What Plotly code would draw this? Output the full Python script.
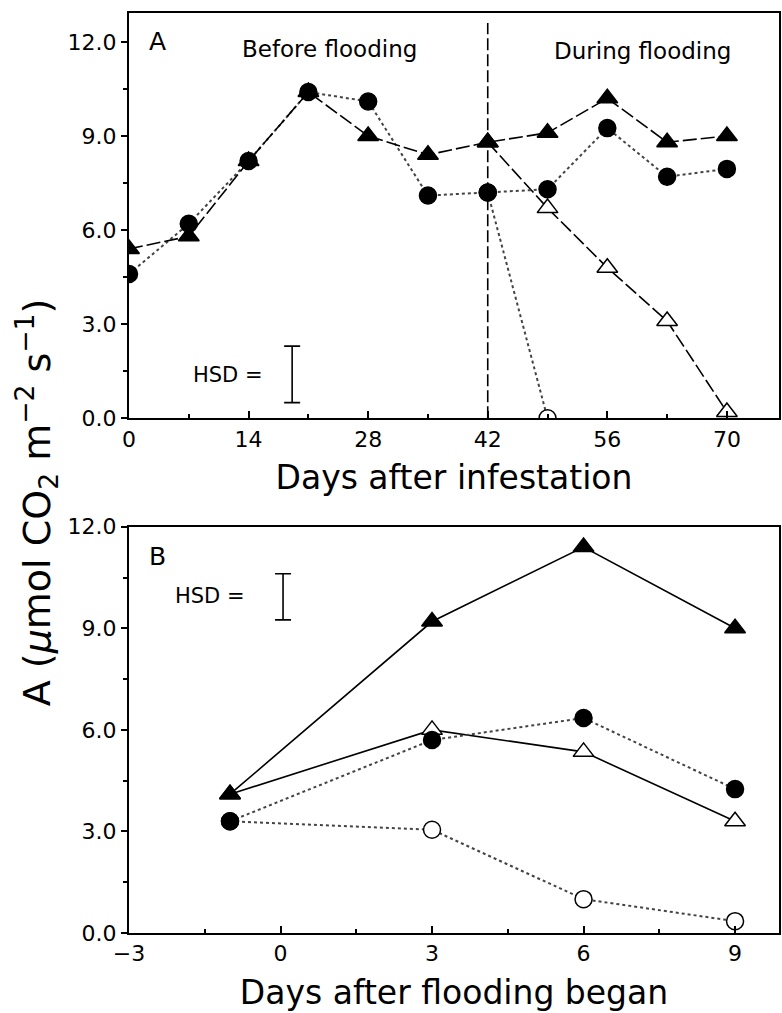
import plotly.graph_objects as go

# ---------------- Panel A data ----------------
days_a = [0, 7, 14, 21, 28, 35, 42, 49, 56, 63, 70]
a_filled_tri = [5.4, 5.8, 8.2, 10.4, 9.0, 8.4, 8.8, 9.1, 10.2, 8.8, 9.0]
a_filled_circ = [4.6, 6.2, 8.2, 10.4, 10.1, 7.1, 7.2, 7.3, 9.25, 7.7, 7.95]
days_a_open_tri = [42, 49, 56, 63, 70]
a_open_tri = [8.8, 6.7, 4.8, 3.1, 0.2]
days_a_open_circ = [42, 49]
a_open_circ = [7.2, 0.0]
flood_start_a = 42
hsd_a_x, hsd_a_y, hsd_a_half = 19.1, 1.4, 0.9

# ---------------- Panel B data ----------------
days_b = [-1, 3, 6, 9]
b_filled_tri = [4.1, 9.2, 11.4, 9.0]
b_open_tri = [4.1, 6.0, 5.35, 3.3]
b_filled_circ = [3.3, 5.7, 6.35, 4.25]
b_open_circ = [3.3, 3.05, 1.0, 0.35]
hsd_b_x, hsd_b_y, hsd_b_half = 0.05, 9.93, 0.68

ticks_a_x = [0, 14, 28, 42, 56, 70]
ticks_b_x = [-3, 0, 3, 6, 9]
ticks_y = [0, 3, 6, 9, 12]

FONT = "DejaVu Sans"
BLACK = "black"
DOT = "#444444"

fig = go.Figure()

def series(x, y, symbol, filled, dash, xa, ya, lcolor=BLACK, lwidth=1.6):
    fig.add_trace(go.Scatter(
        x=x, y=y, mode="lines+markers", xaxis=xa, yaxis=ya, showlegend=False,
        line=dict(color=lcolor, width=lwidth, dash=dash),
        marker=dict(symbol=symbol, size=17 if "circle" in symbol else 18,
                    color=BLACK if filled else "white",
                    line=dict(color=BLACK, width=1.5)),
    ))

# Panel A
series(days_a_open_circ, a_open_circ, "circle", False, "dot", "x", "y", DOT, 2)
series(days_a_open_tri, a_open_tri, "triangle-up", False, "14px,4px", "x", "y")
series(days_a, a_filled_circ, "circle", True, "dot", "x", "y", DOT, 2)
series(days_a, a_filled_tri, "triangle-up", True, "14px,4px", "x", "y")

fig.add_trace(go.Scatter(
    x=[flood_start_a, flood_start_a], y=[0, 12.6], mode="lines", xaxis="x", yaxis="y",
    showlegend=False, line=dict(color=BLACK, width=1.6, dash="12px,4px")))

fig.add_trace(go.Scatter(
    x=[hsd_a_x], y=[hsd_a_y], mode="markers", xaxis="x", yaxis="y", showlegend=False,
    marker=dict(size=1, color="rgba(0,0,0,0)"),
    error_y=dict(type="constant", value=hsd_a_half, color=BLACK, thickness=1.6, width=8)))

# Panel B
series(days_b, b_open_circ, "circle", False, "dot", "x2", "y2", DOT, 2)
series(days_b, b_open_tri, "triangle-up", False, "solid", "x2", "y2")
series(days_b, b_filled_circ, "circle", True, "dot", "x2", "y2", DOT, 2)
series(days_b, b_filled_tri, "triangle-up", True, "solid", "x2", "y2")

fig.add_trace(go.Scatter(
    x=[hsd_b_x], y=[hsd_b_y], mode="markers", xaxis="x2", yaxis="y2", showlegend=False,
    marker=dict(size=1, color="rgba(0,0,0,0)"),
    error_y=dict(type="constant", value=hsd_b_half, color=BLACK, thickness=1.6, width=8)))

axis_common = dict(showline=True, linecolor=BLACK, linewidth=2, mirror=True,
                   showgrid=False, zeroline=False,
                   tickfont=dict(family=FONT, size=22, color=BLACK),
                   tickcolor=BLACK)

fig.update_layout(
    width=782, height=1013,
    margin=dict(l=129, r=1, t=9, b=80),
    paper_bgcolor="white", plot_bgcolor="white",
    font=dict(family=FONT, color=BLACK),
    xaxis=dict(axis_common, domain=[0, 1], anchor="y", range=[0, 76.1],
               tickvals=ticks_a_x, ticks="inside", ticklen=7, tickwidth=1.5,
               minor=dict(dtick=7, tick0=0, ticks="inside", ticklen=4, tickcolor=BLACK),
               title=dict(text="Days after infestation", standoff=15,
                          font=dict(family=FONT, size=33, color=BLACK))),
    yaxis=dict(axis_common, domain=[0.5595, 1], anchor="x", range=[0, 12.92],
               tickvals=ticks_y, tickformat=".1f", ticks="outside", ticklen=6, tickwidth=1.5,
               minor=dict(dtick=1.5, tick0=0, ticks="outside", ticklen=4, tickcolor=BLACK)),
    xaxis2=dict(axis_common, domain=[0, 1], anchor="y2", range=[-3, 9.87],
                tickvals=ticks_b_x, ticks="inside", ticklen=7, tickwidth=1.5,
                minor=dict(dtick=1.5, tick0=0, ticks="inside", ticklen=4, tickcolor=BLACK),
                title=dict(text="Days after flooding began", standoff=15,
                           font=dict(family=FONT, size=33, color=BLACK))),
    yaxis2=dict(axis_common, domain=[0, 0.4416], anchor="x2", range=[0, 12],
                tickvals=ticks_y, tickformat=".1f", ticks="outside", ticklen=6, tickwidth=1.5,
                minor=dict(dtick=1.5, tick0=0, ticks="outside", ticklen=4, tickcolor=BLACK)),
)

ann = [
    dict(text="A", x=3.3, y=12.0, xref="x", yref="y", size=25),
    dict(text="Before flooding", x=23.45, y=11.78, xref="x", yref="y", size=23),
    dict(text="During flooding", x=60.1, y=11.7, xref="x", yref="y", size=23),
    dict(text="HSD =", x=11.55, y=1.37, xref="x", yref="y", size=21),
    dict(text="B", x=-2.43, y=11.12, xref="x2", yref="y2", size=25),
    dict(text="HSD =", x=-1.40, y=9.94, xref="x2", yref="y2", size=21),
]
for a in ann:
    fig.add_annotation(text=a["text"], x=a["x"], y=a["y"], xref=a["xref"], yref=a["yref"],
                       showarrow=False, font=dict(family=FONT, size=a["size"], color=BLACK))

fig.add_annotation(
    text="A (<i>μ</i>mol CO<sub>2</sub> m<sup>−2</sup> s<sup>−1</sup>)",
    x=-0.141, y=0.4686, xref="paper", yref="paper", xanchor="center", yanchor="middle",
    textangle=-90, showarrow=False,
    font=dict(family=FONT, size=38, color=BLACK))

fig.write_html("out.html")
